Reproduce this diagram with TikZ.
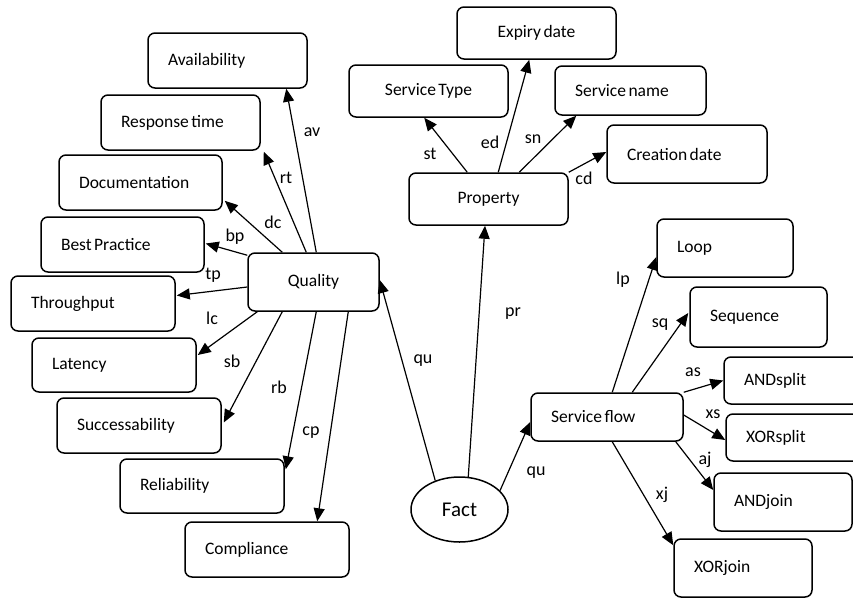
\documentclass[tikz,border=0pt]{standalone}
\usepackage{fontspec}
\setmainfont{Carlito}
\usetikzlibrary{arrows.meta,shapes.geometric}
\newcommand{\bxfont}{\fontsize{17.5}{20}\selectfont}
\newcommand{\lbfont}{\fontsize{18}{20}\selectfont}
\newcommand{\factfont}{\fontsize{21}{24}\selectfont}
\tikzset{
  lbox/.style={draw, line width=1.5pt, rounded corners=7pt, inner xsep=20pt, inner ysep=0pt, align=left, font=\bxfont, execute at begin node={\spaceskip=0.14em\relax}},
  cbox/.style={draw, line width=1.5pt, rounded corners=7pt, inner xsep=20pt, inner ysep=0pt, align=center, font=\bxfont, execute at begin node={\spaceskip=0.14em\relax}},
  conn/.style={line width=1.2pt, -{Triangle[length=13pt,width=11pt]}},
  elab/.style={font=\lbfont, inner sep=0pt}
}
\begin{document}
\begin{tikzpicture}[x=1pt,y=-1pt]
\useasboundingbox (0,0) rectangle (853,597);
\clip (0,0) rectangle (853,597);
% quality side
\node[lbox, text width=119pt, minimum height=55pt] (av) at (227.5,60.5) {Availability};
\node[lbox, text width=119pt, minimum height=55pt] (rt) at (180.5,122.5) {Response time};
\node[lbox, text width=123pt, minimum height=55pt] (dc) at (140.5,182.5) {Documentation};
\node[lbox, text width=123pt, minimum height=55pt] (bp) at (122.5,244.5) {Best Practice};
\node[lbox, text width=124pt, minimum height=55pt] (tp) at (93,303.5) {Throughput};
\node[lbox, text width=124pt, minimum height=54pt] (lc) at (114,365) {Latency};
\node[lbox, text width=124pt, minimum height=55pt] (sb) at (139,425.5) {Successability};
\node[lbox, text width=124pt, minimum height=54pt] (rb) at (202,486) {Reliability};
\node[lbox, text width=124pt, minimum height=55pt] (cp) at (267,549.5) {Compliance};
\node[cbox, text width=91pt, minimum height=58pt] (q) at (313.5,282) {Quality};
% property side
\node[cbox, text width=119pt, minimum height=52pt] (ed) at (536.5,33) {Expiry date};
\node[cbox, text width=119pt, minimum height=52pt] (st) at (428.5,91) {Service Type};
\node[lbox, text width=111pt, minimum height=49pt] (sn) at (630.5,90.5) {Service name};
\node[lbox, text width=120pt, minimum height=58pt] (cd) at (687,154) {Creation date};
\node[cbox, text width=119pt, minimum height=52pt] (pr) at (488.5,199) {Property};
% service flow side
\node[lbox, text width=96pt, minimum height=58pt] (lp) at (725,248) {Loop};
\node[lbox, text width=97pt, minimum height=60pt] (sq) at (758.5,317) {Sequence};
\node[lbox, text width=96pt, minimum height=47pt] (as) at (792,380.5) {ANDsplit};
\node[lbox, text width=96pt, minimum height=47pt] (xs) at (794,437.5) {XORsplit};
\node[lbox, text width=98pt, minimum height=58pt] (aj) at (783,502) {ANDjoin};
\node[lbox, text width=98pt, minimum height=58pt] (xj) at (743,568) {XORjoin};
\node[lbox, text width=112pt, minimum height=48pt] (sf) at (607,417) {Service flow};
% fact
\node[ellipse, draw, line width=1.5pt, minimum width=97pt, minimum height=65pt, inner sep=0pt, font=\factfont] (f) at (459.5,509.5) {Fact};
% quality edges
\draw[conn] ([xshift=69pt]q.north west) -- ([xshift=139pt]av.south west);
\draw[conn] ([xshift=59pt]q.north west) -- ([xshift=3pt,yshift=-1pt]rt.south east);
\draw[conn] ([xshift=35pt]q.north west) -- ([xshift=2pt,yshift=10pt]dc.south east);
\draw[conn] ([yshift=-3pt]q.north west) -- ([xshift=1pt,yshift=1pt]bp.east);
\draw[conn] ([yshift=-5pt]q.west) -- ([xshift=1pt,yshift=8pt]tp.east);
\draw[conn] ([xshift=10pt]q.south west) -- ([xshift=1pt,yshift=10pt]lc.east);
\draw[conn] ([xshift=35pt]q.south west) -- ([xshift=2pt,yshift=3pt]sb.east);
\draw[conn] ([xshift=69pt]q.south west) -- ([xshift=1pt,yshift=-11pt]rb.north east);
\draw[conn] ([xshift=101pt]q.south west) -- ([xshift=133pt]cp.north west);
% fact edges
\draw[conn] (f.130) -- ([yshift=2pt]q.east);
\draw[conn] (f.75) -- ([xshift=-3.5pt]pr.south);
\draw[conn] (f.25) -- ([yshift=-5pt]sf.west);
% property edges
\draw[conn] ([xshift=59pt]pr.north west) -- ([xshift=76pt]st.south west);
\draw[conn] ([xshift=90pt]pr.north west) -- ([xshift=73pt]ed.south west);
\draw[conn] ([xshift=111pt]pr.north west) -- ([xshift=22pt]sn.south west);
\draw[conn] (pr.north east) -- ([yshift=2pt]cd.west);
% service flow edges
\draw[conn] ([xshift=82pt]sf.north west) -- ([yshift=-9pt]lp.west);
\draw[conn] ([xshift=102pt]sf.north west) -- ([xshift=-1pt,yshift=4pt]sq.west);
\draw[conn] (sf.north east) -- (as.west);
\draw[conn] ([yshift=2pt]sf.east) -- ([yshift=-2.5pt]xs.west);
\draw[conn] ([xshift=-8pt]sf.south east) -- ([yshift=12pt]aj.west);
\draw[conn] ([xshift=82pt]sf.south west) -- ([yshift=-7pt]xj.north west);
% edge labels
\node[elab] (lav) at (312,132) {av};
\node[elab] (lrt) at (286,178) {rt};
\node[elab] (ldc) at (273,222) {dc};
\node[elab] (lbp) at (235,237) {bp};
\node[elab] (ltp) at (213,275) {tp};
\node[elab] (llc) at (212,318) {lc};
\node[elab] (lsb) at (232,361) {sb};
\node[elab] (lrb) at (279,387) {rb};
\node[elab] (lcp) at (311,433) {cp};
\node[elab] (lqu1) at (423,361) {qu};
\node[elab] (lpr) at (513,314) {pr};
\node[elab] (lqu2) at (536,473) {qu};
\node[elab] (llp) at (623,280) {lp};
\node[elab] (lsq) at (660,325) {sq};
\node[elab] (las) at (693,372) {as};
\node[elab] (lxs) at (713,414) {xs};
\node[elab] (laj) at (705,460) {aj};
\node[elab] (lxj) at (662,495) {xj};
\node[elab] (lst) at (430,154) {st};
\node[elab] (led) at (490,142) {ed};
\node[elab] (lsn) at (533,139) {sn};
\node[elab] (lcd) at (584,178) {cd};
\end{tikzpicture}
\end{document}
